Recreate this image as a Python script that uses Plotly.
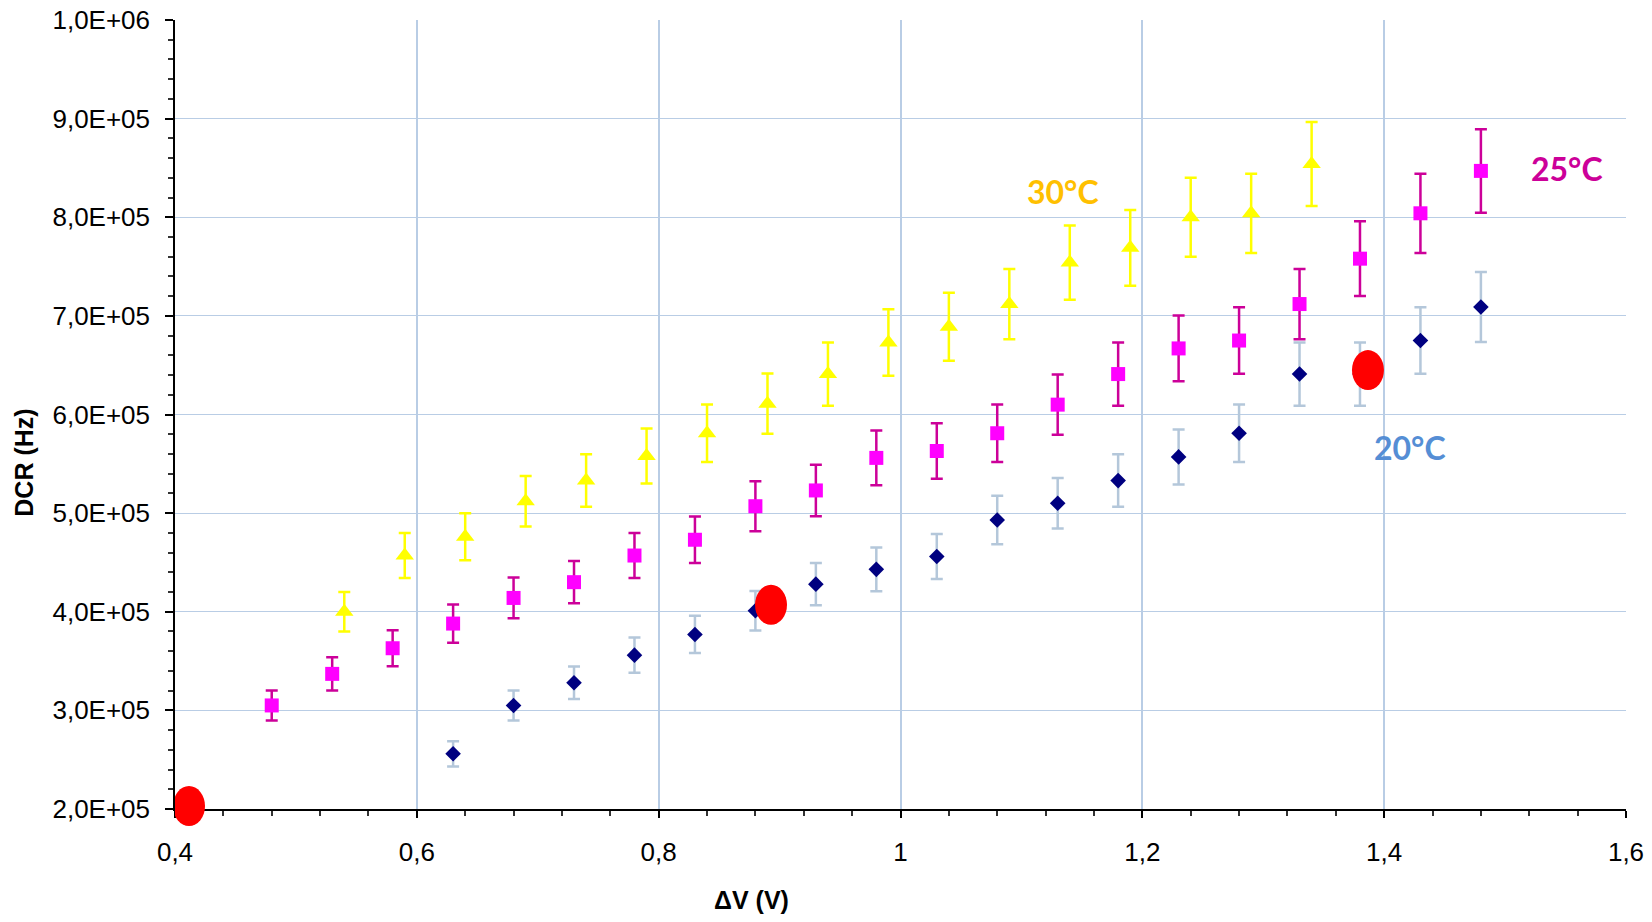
import plotly.graph_objects as go

# ---- data ----
x_20 = [0.63, 0.68, 0.73, 0.78, 0.83, 0.88, 0.93, 0.98, 1.03, 1.08, 1.13,
        1.18, 1.23, 1.28, 1.33, 1.38, 1.43, 1.48]
y_20 = [256e3, 305e3, 328e3, 356e3, 377e3, 401e3, 428e3, 443e3, 456e3, 493e3,
        510e3, 533e3, 557e3, 581e3, 641e3, 641e3, 675e3, 709e3]

x_25 = [0.48, 0.53, 0.58, 0.63, 0.68, 0.73, 0.78, 0.83, 0.88, 0.93, 0.98,
        1.03, 1.08, 1.13, 1.18, 1.23, 1.28, 1.33, 1.38, 1.43, 1.48]
y_25 = [305e3, 337e3, 363e3, 388e3, 414e3, 430e3, 457e3, 473e3, 507e3, 523e3,
        556e3, 563e3, 581e3, 610e3, 641e3, 667e3, 675e3, 712e3, 758e3, 804e3, 847e3]

x_30 = [0.54, 0.59, 0.64, 0.69, 0.74, 0.79, 0.84, 0.89, 0.94, 0.99, 1.04,
        1.09, 1.14, 1.19, 1.24, 1.29, 1.34]
y_30 = [400e3, 457e3, 476e3, 512e3, 533e3, 558e3, 581e3, 611e3, 641e3, 673e3,
        689e3, 712e3, 754e3, 769e3, 800e3, 804e3, 854e3]

err_pct = 5  # error bars, percent of value

# red highlighted points
x_red = [0.4116, 0.8929, 1.3866]
y_red = [203e3, 407e3, 645e3]

# axis ranges
X_RANGE = [0.4, 1.6]
Y_RANGE = [2e5, 1e6]

# tick labels
x_tickvals = [0.4, 0.6, 0.8, 1.0, 1.2, 1.4, 1.6]
x_ticktext = ["0,4", "0,6", "0,8", "1", "1,2", "1,4", "1,6"]
y_tickvals = [2e5, 3e5, 4e5, 5e5, 6e5, 7e5, 8e5, 9e5, 1e6]
y_ticktext = ["2,0E+05", "3,0E+05", "4,0E+05", "5,0E+05", "6,0E+05",
              "7,0E+05", "8,0E+05", "9,0E+05", "1,0E+06"]

# series labels
lab_text = ["20°C", "25°C", "30°C"]
lab_x = [1.4214, 1.5516, 1.134]
lab_y = [567e3, 849e3, 826e3]
lab_col = ["#558ED5", "#CC0099", "#FFC000"]

GRID = "#B9CDE5"
FONT = "Liberation Sans, Arial, sans-serif"

fig = go.Figure()

fig.add_trace(go.Scatter(
    x=x_20, y=y_20, mode="markers", name="20°C",
    marker=dict(symbol="diamond", size=12, color="#000080"),
    error_y=dict(type="percent", value=err_pct, color="#B4C7DA",
                 thickness=2.5, width=6),
))
fig.add_trace(go.Scatter(
    x=x_25, y=y_25, mode="markers", name="25°C",
    marker=dict(symbol="square", size=14, color="#FF00FF"),
    error_y=dict(type="percent", value=err_pct, color="#CC0099",
                 thickness=2.5, width=6),
))
fig.add_trace(go.Scatter(
    x=x_30, y=y_30, mode="markers", name="30°C",
    marker=dict(symbol="triangle-up", size=16, color="#FFFF00"),
    error_y=dict(type="percent", value=err_pct, color="#FFFF00",
                 thickness=2.5, width=6),
))

# red ellipses (y anchored in paper units so they are not clipped at the axis)
for xr, yr in zip(x_red, y_red):
    fig.add_shape(type="circle", xref="x", yref="paper",
                  xsizemode="pixel", ysizemode="pixel",
                  xanchor=xr,
                  yanchor=(yr - Y_RANGE[0]) / (Y_RANGE[1] - Y_RANGE[0]),
                  x0=-16, x1=16, y0=-20, y1=20,
                  fillcolor="#FF0000", line=dict(width=0), layer="above")

for t, lx, ly, c in zip(lab_text, lab_x, lab_y, lab_col):
    fig.add_annotation(x=lx, y=ly, xref="x", yref="y", text=f"<b>{t}</b>",
                       showarrow=False,
                       font=dict(family="Lato, sans-serif", size=32, color=c))

# axis titles (offset like the original)
fig.add_annotation(x=0.397, y=-0.1153, xref="paper", yref="paper",
                   text="<b>ΔV (V)</b>", showarrow=False,
                   xanchor="center", yanchor="middle",
                   font=dict(family=FONT, size=25, color="black"))
fig.add_annotation(x=-0.104, y=0.439, xref="paper", yref="paper",
                   text="<b>DCR (Hz)</b>", showarrow=False, textangle=-90,
                   xanchor="center", yanchor="middle",
                   font=dict(family=FONT, size=25, color="black"))

fig.update_xaxes(
    range=X_RANGE, tickvals=x_tickvals, ticktext=x_ticktext,
    showgrid=True, gridcolor=GRID, gridwidth=1.5,
    showline=True, linecolor="black", linewidth=1.5,
    ticks="outside", ticklen=7, tickcolor="black", tickwidth=1.5,
    ticklabelstandoff=12, automargin=False,
    minor=dict(dtick=0.04, tick0=0.4, ticks="outside", ticklen=5,
               tickcolor="#333333", showgrid=False),
    zeroline=False,
    tickfont=dict(family=FONT, size=26, color="black"),
)
fig.update_yaxes(
    range=Y_RANGE, tickvals=y_tickvals, ticktext=y_ticktext,
    showgrid=True, gridcolor=GRID, gridwidth=1.2,
    showline=True, linecolor="black", linewidth=1.5,
    ticks="outside", ticklen=8, tickcolor="black", tickwidth=1.5,
    ticklabelstandoff=10, automargin=False,
    minor=dict(dtick=2e4, tick0=2e5, ticks="outside", ticklen=5,
               tickcolor="#333333", showgrid=False),
    zeroline=False,
    tickfont=dict(family=FONT, size=26, color="black"),
)

fig.update_layout(
    width=1652, height=922,
    margin=dict(l=175, r=26, t=20, b=113, autoexpand=False),
    paper_bgcolor="white", plot_bgcolor="white",
    showlegend=False,
)

fig.write_html("out.html")
